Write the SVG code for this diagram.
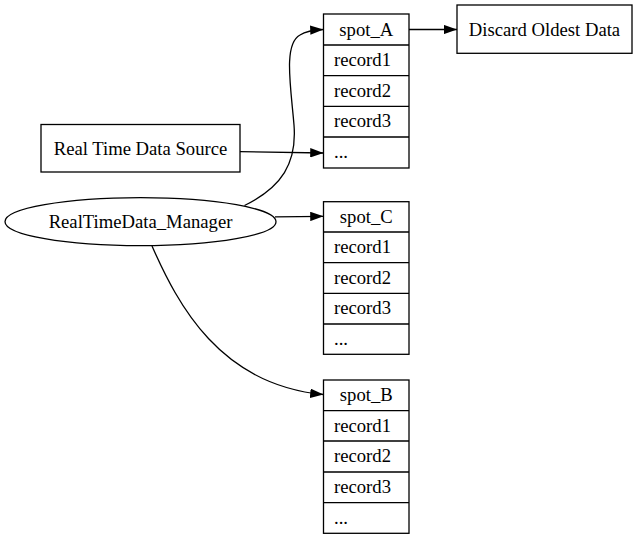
<svg xmlns="http://www.w3.org/2000/svg" width="637" height="539" viewBox="0 0 637 539">
<defs>
<marker id="ah" markerWidth="13.3" markerHeight="9.4" refX="13.3" refY="4.7" orient="auto" markerUnits="userSpaceOnUse" viewBox="0 0 13.3 9.4">
<polygon points="0,0 13.3,4.7 0,9.4" fill="#000"/>
</marker>
</defs>
<style>
.s{fill:none;stroke:#000;stroke-width:1.3}
.n{fill:#fff;stroke:#000;stroke-width:1.3}
text{font-family:"Liberation Serif","Times New Roman",serif;font-size:18.67px;fill:#000}
.c{text-anchor:middle}
.e{fill:none;stroke:#000;stroke-width:1.3;marker-end:url(#ah)}
</style>
<rect width="637" height="539" fill="#fff"/>
<g id="source">
<rect class="n" x="41" y="124.5" width="199" height="47.5"/>
<text class="c" x="140.5" y="154.5">Real Time Data Source</text>
</g>
<g id="manager">
<ellipse class="n" cx="140.5" cy="221.7" rx="135.5" ry="24"/>
<text class="c" x="140.5" y="227.5">RealTimeData_Manager</text>
</g>
<g id="discard">
<rect class="n" x="457" y="5" width="175" height="48.3"/>
<text class="c" x="544.5" y="35.5">Discard Oldest Data</text>
</g>
<g id="spot_A">
<rect class="n" x="323.5" y="14" width="85.5" height="154"/>
<path class="s" d="M323.5,45H409M323.5,75.7H409M323.5,106.3H409M323.5,137H409"/>
<text class="c" x="366.25" y="35.5">spot_A</text>
<text x="334" y="66">record1</text>
<text x="334" y="96.5">record2</text>
<text x="334" y="127">record3</text>
<text x="334" y="158">...</text>
</g>
<g id="spot_C">
<rect class="n" x="323.5" y="201.7" width="85.5" height="152.6"/>
<path class="s" d="M323.5,232H409M323.5,262.7H409M323.5,293.3H409M323.5,324H409"/>
<text class="c" x="366.25" y="222.5">spot_C</text>
<text x="334" y="253">record1</text>
<text x="334" y="283.5">record2</text>
<text x="334" y="314">record3</text>
<text x="334" y="345">...</text>
</g>
<g id="spot_B">
<rect class="n" x="323.5" y="380" width="85.5" height="153.3"/>
<path class="s" d="M323.5,410.7H409M323.5,441H409M323.5,472H409M323.5,502.7H409"/>
<text class="c" x="366.25" y="401">spot_B</text>
<text x="334" y="431.5">record1</text>
<text x="334" y="462">record2</text>
<text x="334" y="492.5">record3</text>
<text x="334" y="523.5">...</text>
</g>
<g id="edges">
<path class="e" d="M409,29.5L457,29.5"/>
<path class="e" d="M240,151.7L323.5,153"/>
<path class="e" d="M244.5,205.5C282,187 297,163 294,125C291,88 283,44 300,35C306,31 312,30 323.5,29.5"/>
<path class="e" d="M275,216.8L323.5,216.3"/>
<path class="e" d="M152,246C178,305 220,385 323.5,394.5"/>
</g>
</svg>
